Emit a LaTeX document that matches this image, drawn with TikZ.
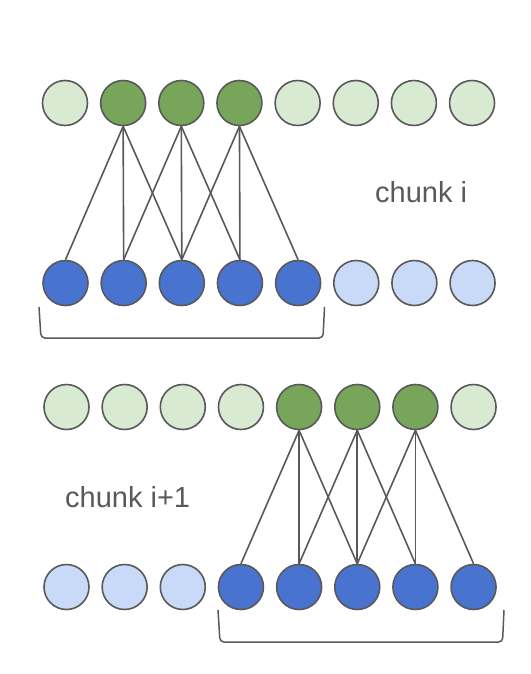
\documentclass[tikz,border=0pt]{standalone}
\usepackage{fontspec}
\setmainfont{Liberation Sans}
\usepackage{tikz}
\usetikzlibrary{arrows,shapes}
\definecolor{lgreen}{HTML}{D9EAD3}
\definecolor{dgreen}{HTML}{77A65A}
\definecolor{lblue}{HTML}{C9DAF8}
\definecolor{dblue}{HTML}{4874D0}
\definecolor{edgegray}{HTML}{595959}
\tikzstyle{cell}=[circle,draw=edgegray,line width=1.6pt,minimum size=45pt,inner sep=0pt]
\tikzstyle{link} = [draw=edgegray,line width=1.6pt]
\tikzstyle{brace} = [draw=edgegray,line width=1.5pt,rounded corners=4pt]
\tikzstyle{label} = [text=edgegray,font=\fontsize{29}{34}\selectfont,inner sep=0pt,anchor=base west]

\begin{document}
\begin{tikzpicture}[x=1pt,y=-1pt]
    \useasboundingbox (0,0) rectangle (530,674);
    % chunk i
    \foreach \k/\col in {1/lgreen, 2/dgreen, 3/dgreen, 4/dgreen, 5/lgreen, 6/lgreen, 7/lgreen, 8/lgreen}
        \node[cell,fill=\col] (a\k) at ({65+58.15*(\k-1)},103) {};
    \foreach \k/\col in {1/dblue, 2/dblue, 3/dblue, 4/dblue, 5/dblue, 6/lblue, 7/lblue, 8/lblue}
        \node[cell,fill=\col] (b\k) at ({65.5+58.15*(\k-1)},283) {};
    \foreach \src/\dest in {2/1, 2/2, 2/3, 3/2, 3/3, 3/4, 4/3, 4/4, 4/5}
        \path[link] (a\src.south) -- (b\dest.north);
    \node[label] (ci) at (375,202) {chunk i};
    \path[brace] (39,307) -- (41,338) -- (323,338) -- (324.5,307);
    % chunk i+1
    \foreach \k/\col in {1/lgreen, 2/lgreen, 3/lgreen, 4/lgreen, 5/dgreen, 6/dgreen, 7/dgreen, 8/lgreen}
        \node[cell,fill=\col] (c\k) at ({66.5+58.15*(\k-1)},407) {};
    \foreach \k/\col in {1/lblue, 2/lblue, 3/lblue, 4/dblue, 5/dblue, 6/dblue, 7/dblue, 8/dblue}
        \node[cell,fill=\col] (d\k) at ({66.5+58.15*(\k-1)},587) {};
    \foreach \src/\dest in {5/4, 5/5, 5/6, 6/5, 6/6, 6/7, 7/6, 7/7, 7/8}
        \path[link] (c\src.south) -- (d\dest.north);
    \node[label] (cii) at (65,507) {chunk i+1};
    \path[brace] (218,610) -- (220,642) -- (502.5,642) -- (504,610);
\end{tikzpicture}
\end{document}
